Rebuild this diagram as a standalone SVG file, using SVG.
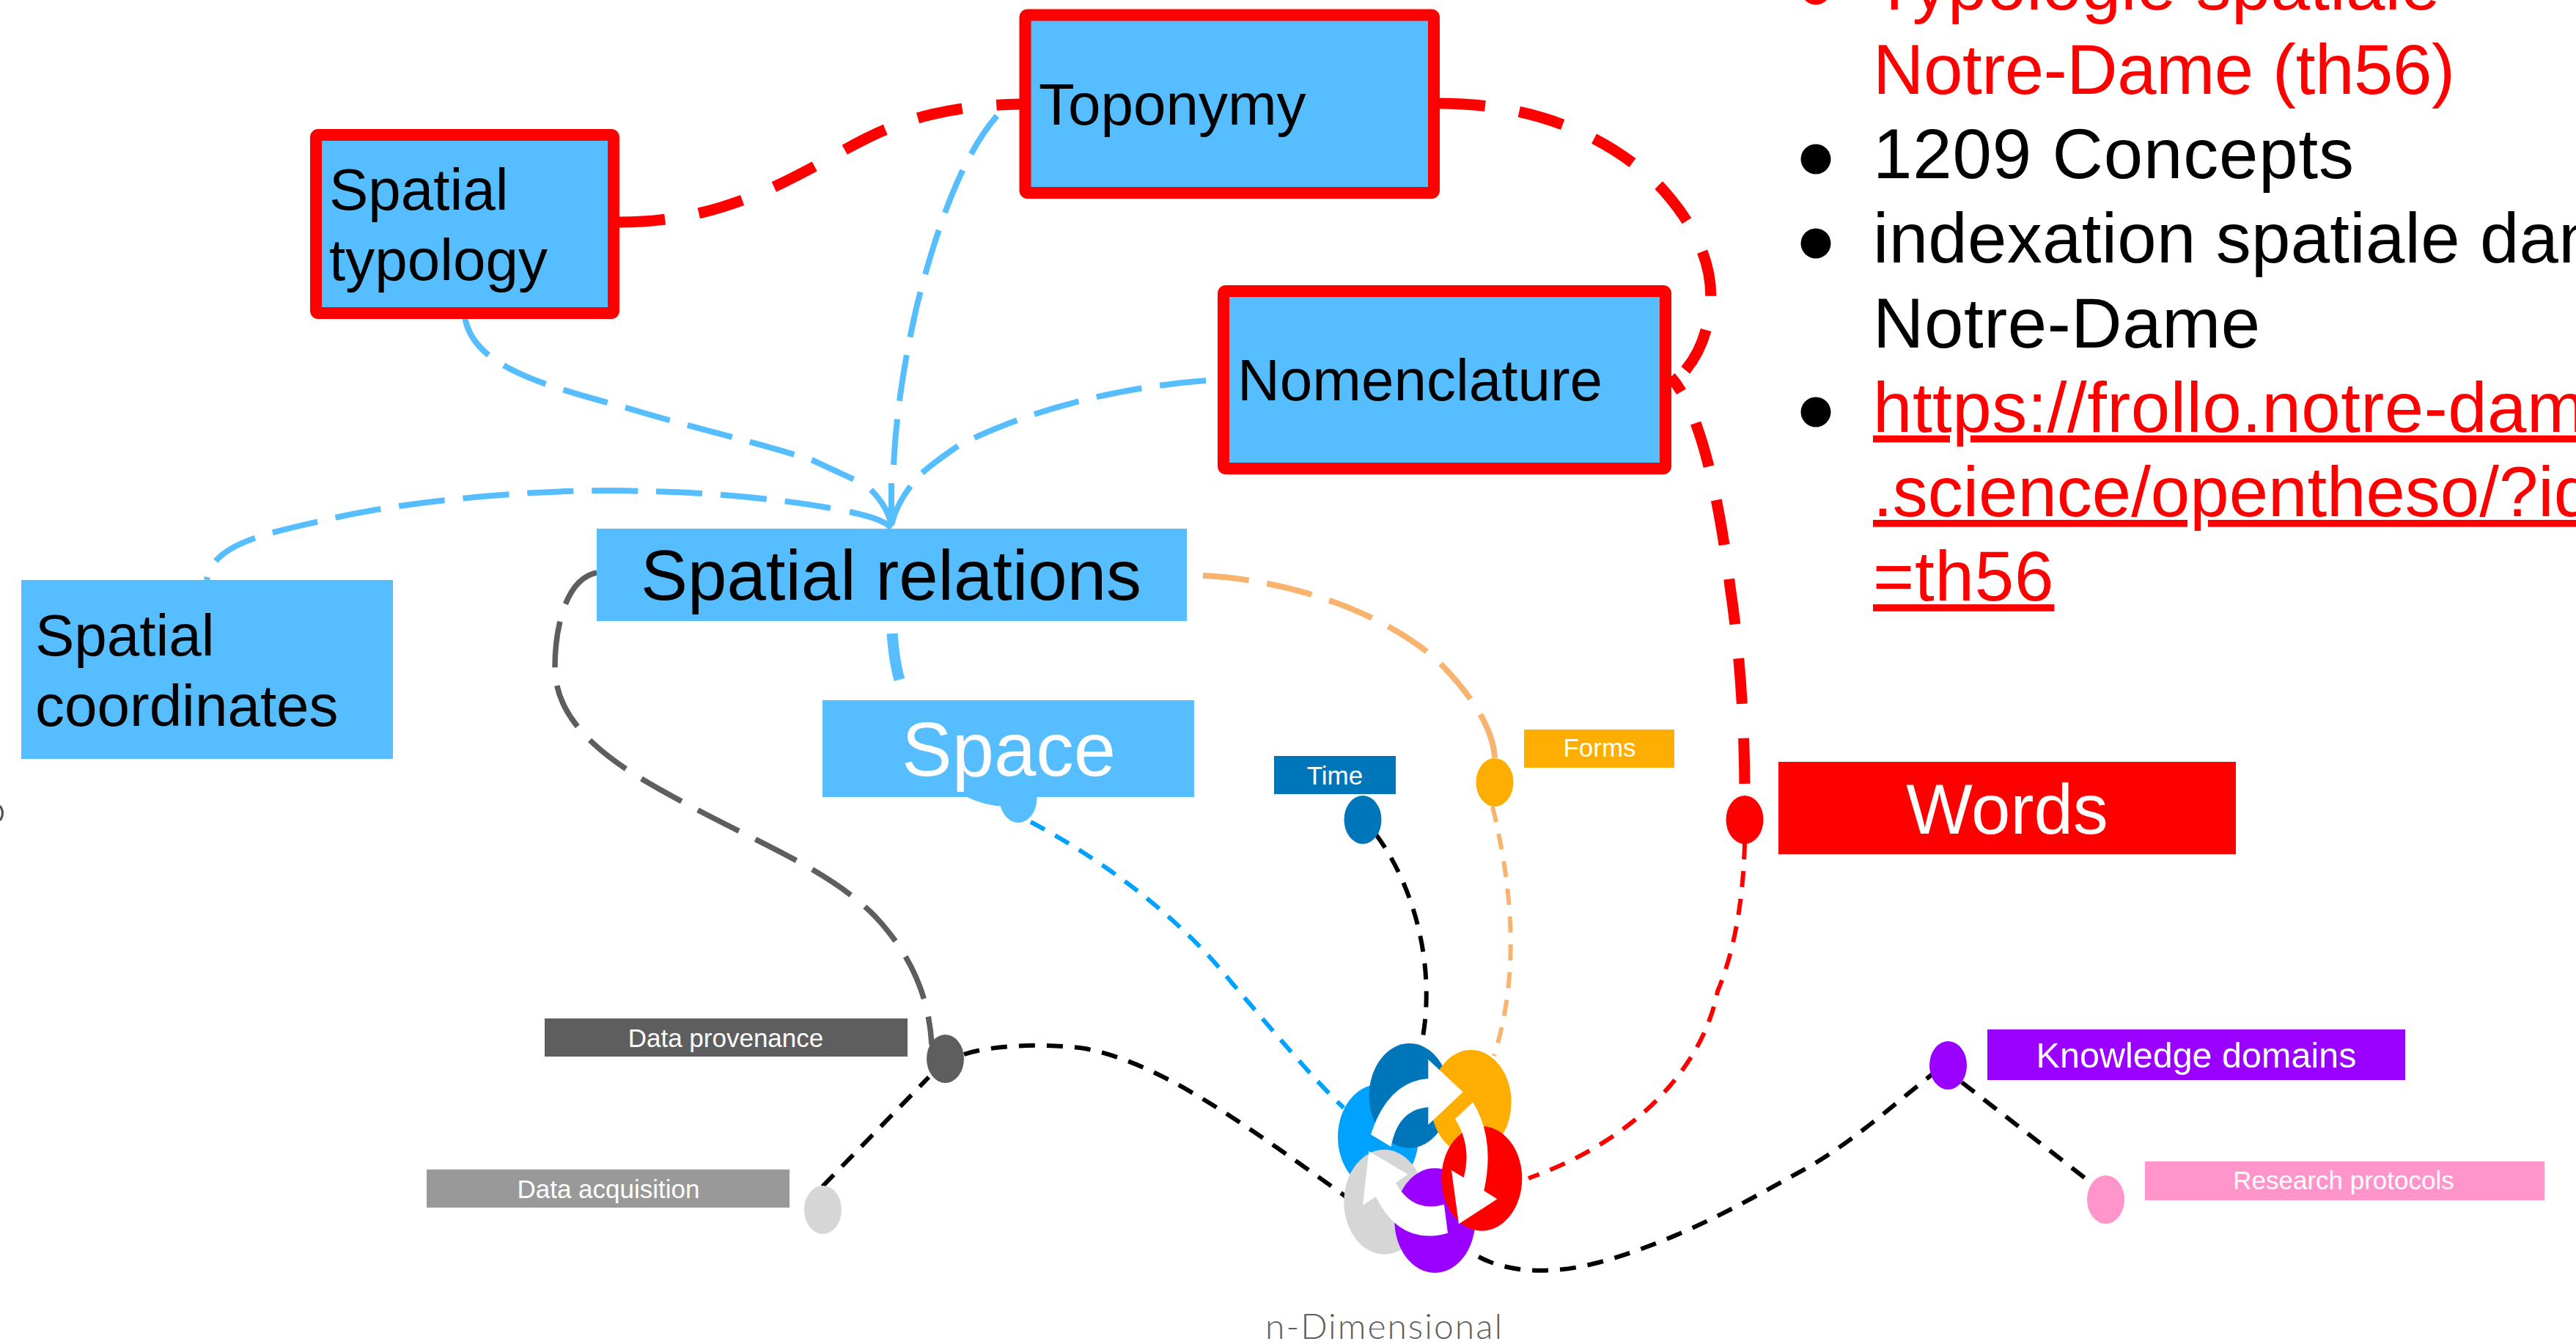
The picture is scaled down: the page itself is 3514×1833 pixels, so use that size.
<svg xmlns="http://www.w3.org/2000/svg" width="3514" height="1833" viewBox="0 0 3514 1833">
<style>
text{font-family:"Liberation Sans",Arial,sans-serif}
.c{fill:none}
.blue{stroke:#56BEFF;stroke-width:8;stroke-dasharray:63 25}
.gray{stroke:#5E5E5E;stroke-width:7.5;stroke-dasharray:63 25}
.org{stroke:#F8B46E;stroke-width:8;stroke-dasharray:63 25}
.thick{stroke:#FF0000;stroke-width:15;stroke-dasharray:62 47}
.thin{stroke-width:6;stroke-dasharray:22 16}
.k{stroke:#000}
.bar{stroke:#56BEFF;stroke-width:8}
.box{fill:#56BEFF}
.red{stroke:#FF0000;stroke-width:16}
.t80{font-size:80px;fill:#000}
.s35{font-size:35px;fill:#fff;text-anchor:middle}
.list{font-size:96px}
.r{fill:#FF0000}
.b{fill:#000}
</style>
<rect width="3514" height="1833" fill="#fff"/>
<g id="connectors">
<path class="c thick" d="M845,303C960,303 1040,265 1111,227S1240,145 1392,142"/>
<path class="c thick" d="M1964,141C2100,141 2200,190 2265,255C2320,315 2338,370 2333,420C2328,460 2315,490 2290,515"/>
<path class="c thick" stroke-dashoffset="37" d="M2279,514C2320,560 2345,680 2360,800C2375,900 2380,1000 2380,1085"/>
<path class="c blue" d="M634,432C645,500 740,525 854,556C950,585 1040,605 1109,628L1165,654"/>
<path class="c bar" d="M1188,668C1203,683 1212,698 1216,716"/>
<path class="c blue" d="M1360,158C1310,215 1275,320 1250,420C1232,500 1222,570 1219,634"/>
<path class="c bar" d="M1216,659L1216,716"/>
<path class="c blue" d="M1645,519C1500,530 1380,570 1307,608C1290,620 1272,632 1258,645"/>
<path class="c bar" d="M1242,663C1228,682 1220,698 1216,716"/>
<path class="c blue" stroke-dashoffset="59" d="M282,791C290,745 350,730 436,711C560,680 760,665 880,670C960,671 1060,680 1133,693"/>
<path class="c bar" d="M1159,698C1185,704 1205,709 1216,720"/>
<path class="c" stroke="#56BEFF" stroke-width="15" d="M1217,864C1219,890 1222,910 1227,927"/>
<path class="c" stroke="#56BEFF" stroke-width="15" d="M1322,1080C1340,1089 1355,1092 1370,1092"/>
<path class="c org" d="M1641,785C1750,790 1880,830 1960,900C2015,955 2038,1000 2039,1035"/>
<path class="c gray" d="M814,781C770,790 757,860 757,910C757,1000 860,1055 930,1093C1030,1148 1130,1185 1194,1250C1250,1310 1268,1370 1271,1425"/>
<path class="c thin k" d="M1122,1618L1267,1469"/>
<path class="c thin k" d="M1315,1438C1350,1426 1420,1422 1480,1430C1580,1450 1680,1520 1836,1632"/>
<path class="c thin k" d="M1877,1138C1930,1210 1960,1320 1939,1425"/>
<path class="c thin" stroke="#F8B46E" d="M2036,1100C2060,1200 2076,1320 2038,1440"/>
<path class="c thin" stroke="#00A2FF" d="M1406,1121C1490,1165 1600,1240 1680,1340C1740,1410 1790,1470 1833,1511"/>
<path class="c thin" stroke="#FF0000" d="M2380,1150C2378,1230 2365,1300 2343,1352C2325,1445 2245,1550 2085,1607"/>
<path class="c thin k" d="M2017,1714C2060,1737 2120,1738 2180,1722C2290,1692 2380,1640 2470,1590C2540,1548 2590,1500 2640,1462"/>
<path class="c thin k" d="M2676,1476L2855,1615"/>
</g>
<g id="spatial-typology"><rect class="box red" x="431" y="184" width="406" height="243" rx="3"/><text class="t80" x="449" y="286">Spatial</text><text class="t80" x="449" y="382">typology</text></g>
<g id="toponymy"><rect class="box red" x="1398.5" y="20.5" width="557.5" height="242.5" rx="3"/><text class="t80" x="1417" y="170">Toponymy</text></g>
<g id="nomenclature"><rect class="box red" x="1669" y="397" width="603" height="242" rx="3"/><text class="t80" x="1688" y="546">Nomenclature</text></g>
<g id="spatial-coordinates"><rect class="box" x="29" y="791" width="507" height="244"/><text class="t80" x="48" y="894">Spatial</text><text class="t80" x="48" y="990">coordinates</text></g>
<g id="spatial-relations"><rect class="box" x="814" y="721" width="805" height="126"/><text x="874" y="818" font-size="96">Spatial relations</text></g>
<g id="space"><ellipse class="box" cx="1389" cy="1089" rx="25.5" ry="33"/><rect class="box" x="1122" y="955" width="507" height="132"/><text x="1376" y="1058" font-size="103" fill="#fff" text-anchor="middle">Space</text></g>
<g id="time"><rect x="1738" y="1031" width="166" height="52" fill="#0076BA"/><text class="s35" x="1821" y="1070">Time</text><ellipse cx="1859" cy="1118" rx="25.5" ry="33" fill="#0076BA"/></g>
<g id="forms"><rect x="2079" y="995" width="205" height="52" fill="#FEAE00"/><text class="s35" x="2182" y="1032">Forms</text><ellipse cx="2039" cy="1067" rx="25.5" ry="33" fill="#FEAE00"/></g>
<g id="words"><rect x="2426" y="1039" width="624" height="126" fill="#FF0000"/><text x="2738" y="1137" font-size="96" fill="#fff" text-anchor="middle">Words</text><ellipse cx="2380" cy="1118" rx="25.5" ry="33" fill="#FF0000"/></g>
<g id="data-provenance"><rect x="743" y="1389" width="495" height="52" fill="#5E5E5E"/><text class="s35" x="990" y="1428">Data provenance</text><ellipse cx="1289.5" cy="1444" rx="25.5" ry="33" fill="#5E5E5E"/></g>
<g id="data-acquisition"><rect x="582" y="1595" width="495" height="52" fill="#999999"/><text class="s35" x="830" y="1634">Data acquisition</text><ellipse cx="1122.5" cy="1650" rx="25.5" ry="33" fill="#D6D6D6"/></g>
<g id="knowledge-domains"><rect x="2711" y="1404" width="570" height="69" fill="#9A00FF"/><text x="2996" y="1456" font-size="48.5" fill="#fff" text-anchor="middle">Knowledge domains</text><ellipse cx="2657.5" cy="1453" rx="25.5" ry="33" fill="#9A00FF"/></g>
<g id="research-protocols"><rect x="2926" y="1584" width="545" height="53" fill="#FF95CA"/><text class="s35" x="3197" y="1622">Research protocols</text><ellipse cx="2872.5" cy="1636" rx="25.5" ry="33" fill="#FF95CA"/></g>
<g id="n-dimensional">
<g transform="translate(1750 1350) scale(.3333)">
<ellipse cx="390" cy="602" rx="165" ry="214" fill="#00A2FF"/>
<ellipse cx="518" cy="433" rx="165" ry="214" fill="#0076BA"/>
<ellipse cx="415" cy="868" rx="165" ry="214" fill="#D6D6D6"/>
<ellipse cx="622" cy="944" rx="165" ry="214" fill="#9A00FF"/>
<ellipse cx="770" cy="460" rx="165" ry="214" fill="#FEAE00"/>
<ellipse cx="814" cy="772" rx="165" ry="214" fill="#FF0000"/>
<path fill="#fff" d="M360,592Q430,375 595,363L595,285L737,418L595,552L595,480Q470,490 443,642Z"/>
<path fill="#fff" d="M705,528L778,460Q870,610 823,822L877,856L720,958L690,738L740,768Q775,640 705,528Z"/>
<path fill="#fff" d="M675,995Q480,1050 380,846L327,882L352,660L512,755L462,790Q530,915 660,878Z"/>
</g>
<text x="1726" y="1826" font-size="48" fill="#5E5E5E" font-weight="300" textLength="323" style="font-family:Lato,'Liberation Sans',sans-serif">n-Dimensional</text>
</g>
<g id="text-list">
<circle class="r" cx="2477" cy="-14" r="20.5"/>
<text class="list r" x="2555" y="12.8" letter-spacing=".3">Typologie spatiale</text>
<text class="list r" x="2555" y="128" letter-spacing="-.4">Notre-Dame (th56)</text>
<circle class="b" cx="2477" cy="217" r="20.5"/>
<text class="list b" x="2555" y="243.2" letter-spacing=".85">1209 Concepts</text>
<circle class="b" cx="2477" cy="332" r="20.5"/>
<text class="list b" x="2555" y="358.4" letter-spacing=".3">indexation spatiale dan</text>
<text class="list b" x="2555" y="473.6" letter-spacing=".6">Notre-Dame</text>
<circle class="b" cx="2477" cy="562" r="20.5"/>
<text class="list r" x="2555" y="588.8" text-decoration="underline" letter-spacing=".5">https://frollo.notre-dam</text>
<text class="list r" x="2555" y="704" text-decoration="underline">.science/opentheso/?id</text>
<text class="list r" x="2555" y="819.2" text-decoration="underline" letter-spacing=".9">=th56</text>
</g>
<path class="c" stroke="#544A5C" stroke-width="3" d="M0,1099Q7,1109 0,1119"/>
</svg>
